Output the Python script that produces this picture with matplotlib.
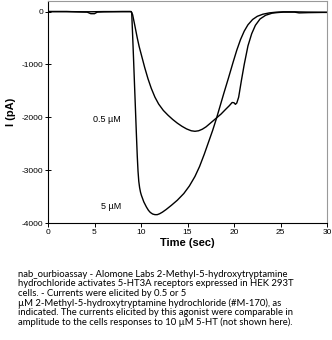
import matplotlib
matplotlib.use("Agg")
import matplotlib.pyplot as plt

# 5 uM trace (time s, current pA)
t5 = [0, 2, 4, 6, 8, 8.9, 9.0, 9.1, 9.2, 9.3, 9.4, 9.5, 9.6, 9.68, 9.76, 9.85, 9.95,
      10.04, 10.3, 10.58, 10.8, 11.0, 11.25, 11.5, 11.75, 12.0, 12.3, 12.7, 13.27, 13.9,
      14.6, 15.2, 15.8, 16.3, 16.8, 17.3, 17.7, 18.1, 18.5, 18.9, 19.4, 19.9, 20.3, 20.7,
      21.1, 21.5, 22.0, 22.5, 23.1, 23.8, 24.5, 25.3, 26.5, 28, 30]
i5 = [0, 0, -5, 0, 0, 0, -20, -450, -900, -1370, -1830, -2300, -2740, -3020, -3210,
      -3330, -3420, -3475, -3600, -3697, -3760, -3800, -3830, -3842, -3842, -3825, -3795,
      -3745, -3665, -3570, -3443, -3300, -3120, -2930, -2700, -2450, -2250, -2030, -1790,
      -1550, -1260, -960, -730, -530, -370, -250, -150, -90, -50, -25, -12, -5, -5, -10,
      -15]

# 0.5 uM trace
t05 = [0, 2, 4.2, 4.6, 5.0, 5.3, 6, 8, 8.95, 9.1, 9.32, 9.6, 9.8, 10.04, 10.4, 10.75,
       11.1, 11.5, 11.9, 12.4, 12.9, 13.4, 13.9, 14.4, 14.9, 15.4, 15.8, 16.2, 16.6, 17.0,
       17.4, 17.8, 18.2, 18.6, 19.1, 19.5, 19.8, 20.0, 20.15, 20.3, 20.5, 20.8, 21.1, 21.5,
       21.9, 22.3, 22.8, 23.4, 24.1, 24.6, 25.3, 26.5, 27.0, 28, 30]
i05 = [0, 0, -10, -40, -40, -10, -5, 0, 0, -60, -250, -500, -660, -820, -1060, -1270,
       -1450, -1620, -1750, -1870, -1960, -2040, -2110, -2170, -2220, -2255, -2265, -2255,
       -2225, -2180, -2120, -2060, -2000, -1940, -1850, -1780, -1720, -1725, -1755, -1730,
       -1620, -1300, -1000, -650, -420, -260, -140, -70, -30, -20, -10, -10, -25, -20,
       -15]

xticks = [0, 5, 10, 15, 20, 25, 30]
yticks = [0, -1000, -2000, -3000, -4000]

caption = ("nab_ourbioassay - Alomone Labs 2-Methyl-5-hydroxytryptamine\n"
           "hydrochloride activates 5-HT3A receptors expressed in HEK 293T\n"
           "cells. - Currents were elicited by 0.5 or 5\n"
           "\u00b5M 2-Methyl-5-hydroxytryptamine hydrochloride (#M-170), as\n"
           "indicated. The currents elicited by this agonist were comparable in\n"
           "amplitude to the cells responses to 10 \u00b5M 5-HT (not shown here).")

fig = plt.figure(figsize=(3.32, 3.40), dpi=100)
ax = fig.add_axes([48 / 332, 1 - 223 / 340, (327 - 48) / 332, (223 - 1) / 340])

ax.plot(t5, i5, color="black", lw=1.0)
ax.plot(t05, i05, color="black", lw=1.0)

ax.set_xlim(0, 30)
ax.set_ylim(-4000, 200)
ax.set_xticks(xticks)
ax.set_yticks(yticks)
ax.set_xticklabels([str(v) for v in xticks], family="Liberation Sans", fontsize=6)
ax.set_yticklabels([str(v) for v in yticks], family="Liberation Sans", fontsize=6)
ax.tick_params(axis="x", direction="out", length=3, width=0.7, pad=1.5)
ax.tick_params(axis="y", direction="inout", length=4, width=0.7, pad=1.5)
for s in ("top", "right"):
    ax.spines[s].set_color("#999999")
    ax.spines[s].set_linewidth(0.8)
for s in ("left", "bottom"):
    ax.spines[s].set_linewidth(0.8)

ax.set_xlabel("Time (sec)", family="Liberation Sans", fontsize=8, fontweight="bold", labelpad=1)
ax.set_ylabel("I (pA)", family="Liberation Sans", fontsize=8, fontweight="bold", labelpad=4)

ax.text(6.3, -2050, "0.5 \u00b5M", family="Liberation Sans", fontsize=6.5, ha="center", va="center")
ax.text(6.8, -3680, "5 \u00b5M", family="Liberation Sans", fontsize=6.5, ha="center", va="center")

fig.text(18 / 332, 1 - 270 / 340, caption, family="Lato", fontsize=6.8,
         ha="left", va="top", linespacing=1.05)

fig.savefig("out.png", dpi=100, facecolor="white")
